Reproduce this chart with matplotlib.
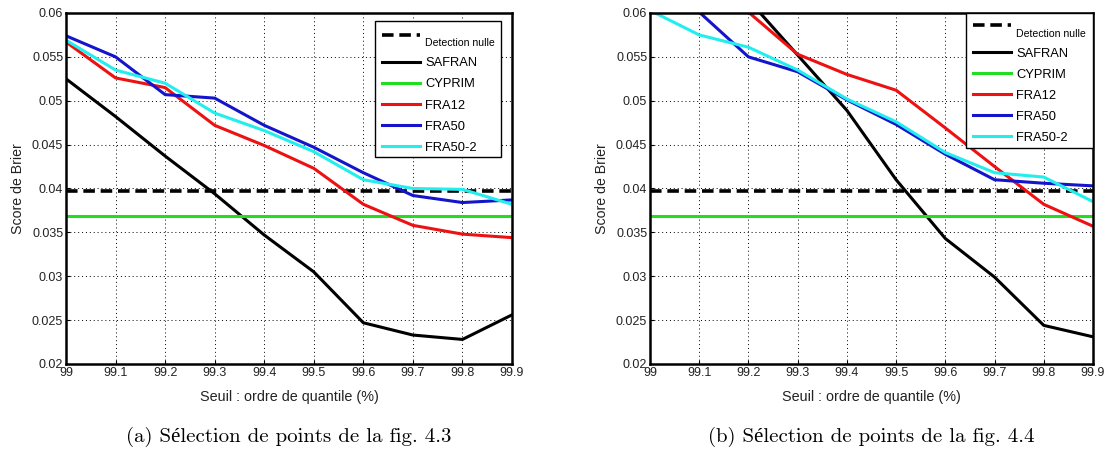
import matplotlib
matplotlib.use("Agg")
import matplotlib.pyplot as plt
import matplotlib.transforms as mtransforms
from matplotlib.patches import Rectangle
from matplotlib.ticker import FormatStrFormatter

# ---- data ----
quantiles = [99.0, 99.1, 99.2, 99.3, 99.4, 99.5, 99.6, 99.7, 99.8, 99.9]
detection_nulle = 0.0397
cyprim = 0.0369

# (a) points of fig. 4.3
a_safran = [0.0525, 0.0482, 0.0437, 0.0394, 0.0347, 0.0305, 0.0247, 0.0233, 0.0228, 0.0256]
a_fra12 = [0.0567, 0.0526, 0.0515, 0.0472, 0.0449, 0.0423, 0.0382, 0.0358, 0.0348, 0.0344]
a_fra50 = [0.0574, 0.0550, 0.0507, 0.0503, 0.0472, 0.0447, 0.0418, 0.0392, 0.0384, 0.0387]
a_fra50_2 = [0.0569, 0.0535, 0.0520, 0.0486, 0.0466, 0.0442, 0.0410, 0.0400, 0.0399, 0.0382]

# (b) points of fig. 4.4
b_safran = [0.0745, 0.0680, 0.0615, 0.0552, 0.0489, 0.0410, 0.0343, 0.0299, 0.0244, 0.0231]
b_fra12 = [0.0720, 0.0660, 0.0601, 0.0553, 0.0530, 0.0512, 0.0469, 0.0425, 0.0382, 0.0357]
b_fra50 = [0.0640, 0.0601, 0.0550, 0.0533, 0.0501, 0.0473, 0.0439, 0.0410, 0.0406, 0.0403]
b_fra50_2 = [0.0603, 0.0575, 0.0561, 0.0535, 0.0502, 0.0476, 0.0441, 0.0418, 0.0413, 0.0385]

captions = ["(a) Sélection de points de la fig. 4.3", "(b) Sélection de points de la fig. 4.4"]
legend_labels = ["Detection nulle", "SAFRAN", "CYPRIM", "FRA12", "FRA50", "FRA50-2"]
xlabel = "Seuil : ordre de quantile (%)"
ylabel = "Score de Brier"
xticks = [99.0, 99.1, 99.2, 99.3, 99.4, 99.5, 99.6, 99.7, 99.8, 99.9]
xticklabels = ["99", "99.1", "99.2", "99.3", "99.4", "99.5", "99.6", "99.7", "99.8", "99.9"]
yticks = [0.02, 0.025, 0.03, 0.035, 0.04, 0.045, 0.05, 0.055, 0.06]

plt.rcParams['font.family'] = ['Liberation Sans', 'DejaVu Sans']

fig = plt.figure(figsize=(11.09, 4.55), dpi=100)
W, H = 1109, 455
axes_px = [(66, 512), (650, 1093)]
top_px, bot_px = 13, 364
# legend frame boxes (axes coords: x0, y0, w, h) and legend content anchors
frame_boxes = [(0.6928, 0.5897, 0.2825, 0.3875), (0.7133, 0.6154, 0.2867, 0.3846)]
legend_anchor = [(0.7085, 0.931), (0.729, 0.9587)]

datasets = [(a_safran, a_fra12, a_fra50, a_fra50_2), (b_safran, b_fra12, b_fra50, b_fra50_2)]
colors = ['black', '#22dd22', '#ee1111', '#1414cc', '#22eeee']

for i, (x0, x1) in enumerate(axes_px):
    ax = fig.add_axes([x0 / W, 1 - bot_px / H, (x1 - x0) / W, (bot_px - top_px) / H])
    saf, f12, f50, f502 = datasets[i]
    lw = 2.2
    ax.plot([quantiles[0], quantiles[-1]], [detection_nulle, detection_nulle], color='black',
            lw=2.6, ls=(0, (3.2, 1.6)), label=legend_labels[0])
    ax.plot(quantiles, saf, color=colors[0], lw=lw, label=legend_labels[1])
    ax.plot([quantiles[0], quantiles[-1]], [cyprim, cyprim], color=colors[1], lw=lw, label=legend_labels[2])
    ax.plot(quantiles, f12, color=colors[2], lw=lw, label=legend_labels[3])
    ax.plot(quantiles, f50, color=colors[3], lw=lw, label=legend_labels[4])
    ax.plot(quantiles, f502, color=colors[4], lw=lw, label=legend_labels[5])

    ax.set_xlim(99.0, 99.9)
    ax.set_ylim(0.02, 0.06)
    ax.set_xticks(xticks)
    ax.set_xticklabels(xticklabels)
    ax.set_yticks(yticks)
    ax.yaxis.set_major_formatter(FormatStrFormatter('%g'))
    ax.tick_params(direction='in', length=3, labelsize=9, colors='black', labelcolor='#222222', pad=2)
    ax.grid(True, color='black', ls=(0, (1, 3)), lw=0.7)
    for s in ax.spines.values():
        s.set_linewidth(1.8)
    ax.set_xlabel(xlabel, fontsize=10.4, labelpad=8, color='#222222')
    ax.set_ylabel(ylabel, fontsize=10.2, labelpad=5, color='#222222')

    # legend frame
    fx, fy, fw, fh = frame_boxes[i]
    ax.add_patch(Rectangle((fx, fy), fw, fh, transform=ax.transAxes, facecolor='white',
                           edgecolor='black', lw=1.0, zorder=4.5, clip_on=False))
    leg = ax.legend(loc='upper left', bbox_to_anchor=legend_anchor[i],
                    fontsize=9.3, handlelength=2.95, handletextpad=0.4, labelspacing=0.7,
                    borderpad=0, frameon=False, borderaxespad=0)
    leg.set_zorder(5)
    t0 = leg.get_texts()[0]
    t0.set_fontsize(7.6)
    h0 = leg.legend_handles[0]
    h0.set_transform(h0.get_transform() + mtransforms.ScaledTranslation(0, 5 / 72, fig.dpi_scale_trans))

    cx = (x0 + x1) / 2 / W
    fig.text(cx, 1 - 437 / H, captions[i], ha='center', va='center', fontsize=15,
             family=['cmr10', 'Liberation Serif', 'DejaVu Serif'])

fig.savefig('out.png', dpi=100, facecolor='white')
